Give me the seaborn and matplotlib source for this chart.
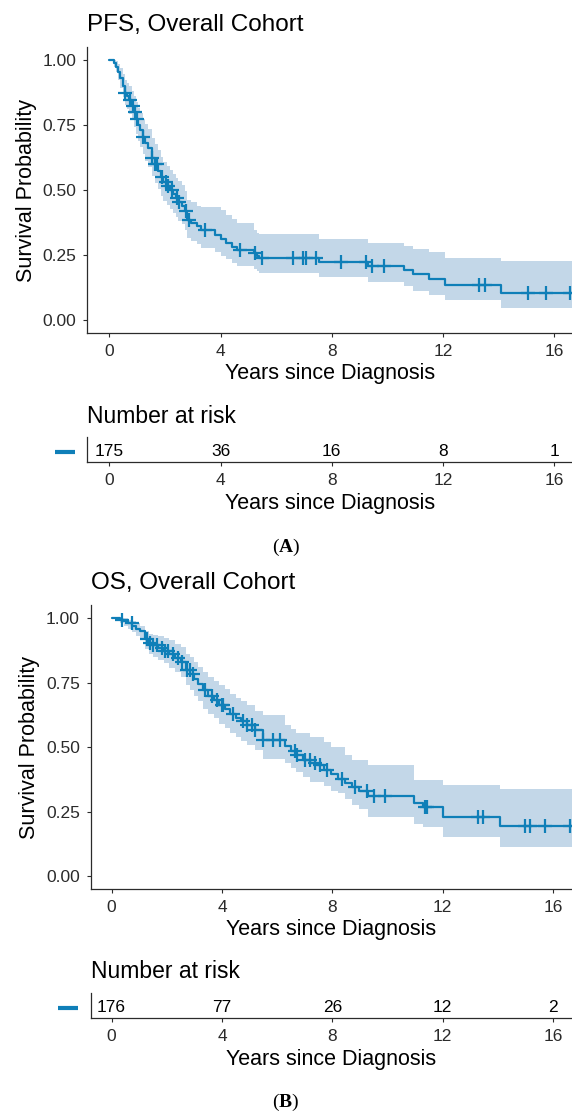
import numpy as np
import pandas as pd
import matplotlib
matplotlib.use('Agg')
import matplotlib.pyplot as plt
import seaborn as sns
from matplotlib.lines import Line2D

# ---- PFS, Overall Cohort ----
pfs_time = [0.00, 0.18, 0.25, 0.32, 0.40, 0.48, 0.56, 0.64, 0.72, 0.80, 0.88, 0.96,
            1.04, 1.12, 1.20, 1.30, 1.40, 1.52, 1.64, 1.76, 1.86, 1.94, 2.06, 2.18,
            2.30, 2.40, 2.48, 2.60, 2.72, 2.81, 2.95, 3.14, 3.30, 3.82, 4.00, 4.20,
            4.40, 4.58, 5.22, 5.32, 5.40, 7.55, 9.32, 10.60, 10.91, 11.48, 12.08, 14.09]
pfs_surv = [1.000, 0.990, 0.975, 0.955, 0.930, 0.900, 0.875, 0.860, 0.845, 0.825, 0.800, 0.775,
            0.750, 0.730, 0.705, 0.680, 0.660, 0.625, 0.600, 0.575, 0.550, 0.530, 0.515, 0.500,
            0.485, 0.470, 0.455, 0.440, 0.420, 0.385, 0.375, 0.362, 0.345, 0.328, 0.312, 0.296,
            0.282, 0.268, 0.256, 0.247, 0.240, 0.224, 0.207, 0.192, 0.176, 0.157, 0.134, 0.102]
pfs_lower = [1.000, 0.975, 0.953, 0.925, 0.893, 0.858, 0.828, 0.810, 0.793, 0.770, 0.742, 0.715,
             0.688, 0.665, 0.638, 0.612, 0.590, 0.555, 0.528, 0.502, 0.477, 0.457, 0.442, 0.427,
             0.412, 0.397, 0.382, 0.368, 0.348, 0.315, 0.305, 0.293, 0.278, 0.262, 0.248, 0.234,
             0.221, 0.207, 0.195, 0.187, 0.181, 0.166, 0.147, 0.130, 0.112, 0.096, 0.077, 0.045]
pfs_upper = [1.000, 1.000, 0.995, 0.985, 0.968, 0.945, 0.925, 0.912, 0.900, 0.882, 0.860, 0.838,
             0.815, 0.797, 0.775, 0.752, 0.733, 0.700, 0.676, 0.652, 0.628, 0.608, 0.593, 0.578,
             0.563, 0.548, 0.533, 0.518, 0.498, 0.462, 0.452, 0.440, 0.435, 0.435, 0.425, 0.405,
             0.390, 0.375, 0.345, 0.335, 0.329, 0.313, 0.295, 0.285, 0.272, 0.260, 0.240, 0.226]
pfs_censor = [0.56, 0.74, 0.84, 0.92, 1.01, 1.22, 1.52, 1.64, 1.72, 1.88, 2.04, 2.12, 2.24,
              2.42, 2.52, 2.76, 2.85, 3.44, 4.70, 5.24, 5.48, 6.62, 6.98, 7.07, 7.43, 8.33,
              9.23, 9.44, 9.88, 13.31, 13.51, 15.04, 15.71, 16.57]
pfs_end = 16.75
pfs_risk = [175, 36, 16, 8, 1]

# ---- OS, Overall Cohort ----
os_time = [0.00, 0.30, 0.45, 0.60, 0.75, 0.90, 1.05, 1.20, 1.35, 1.50, 1.70, 1.90, 2.10,
           2.30, 2.50, 2.70, 2.85, 3.00, 3.15, 3.30, 3.50, 3.70, 3.90, 4.10, 4.30, 4.50,
           4.70, 4.90, 5.20, 5.47, 6.30, 6.50, 6.70, 6.95, 7.20, 7.45, 7.70, 7.95, 8.20,
           8.45, 8.70, 8.95, 9.30, 10.95, 11.30, 12.02, 14.08]
os_surv = [1.000, 0.994, 0.988, 0.980, 0.970, 0.960, 0.950, 0.920, 0.905, 0.895, 0.885, 0.875, 0.860,
           0.845, 0.830, 0.800, 0.785, 0.765, 0.745, 0.720, 0.700, 0.685, 0.665, 0.650, 0.630, 0.615,
           0.600, 0.585, 0.566, 0.528, 0.505, 0.485, 0.470, 0.450, 0.440, 0.430, 0.410, 0.395, 0.375,
           0.360, 0.345, 0.330, 0.310, 0.285, 0.269, 0.230, 0.195]
os_lower = [1.000, 0.982, 0.972, 0.960, 0.945, 0.932, 0.918, 0.880, 0.862, 0.850, 0.838, 0.825, 0.808,
            0.790, 0.772, 0.740, 0.722, 0.700, 0.678, 0.650, 0.628, 0.612, 0.590, 0.575, 0.555, 0.540,
            0.525, 0.510, 0.490, 0.456, 0.437, 0.420, 0.402, 0.384, 0.366, 0.366, 0.350, 0.330, 0.321,
            0.300, 0.275, 0.260, 0.230, 0.204, 0.191, 0.152, 0.114]
os_upper = [1.000, 1.000, 1.000, 0.995, 0.988, 0.980, 0.972, 0.950, 0.940, 0.935, 0.930, 0.925, 0.915,
            0.902, 0.890, 0.862, 0.848, 0.830, 0.812, 0.790, 0.772, 0.758, 0.740, 0.725, 0.706, 0.692,
            0.678, 0.662, 0.642, 0.625, 0.586, 0.570, 0.554, 0.554, 0.541, 0.541, 0.520, 0.502, 0.500,
            0.470, 0.450, 0.450, 0.431, 0.373, 0.373, 0.353, 0.336]
os_censor = [0.37, 0.73, 1.27, 1.39, 1.51, 1.64, 1.82, 1.94, 2.06, 2.24, 2.42, 2.54, 2.72, 2.84,
             2.96, 3.39, 3.63, 3.81, 3.99, 4.05, 4.41, 4.78, 4.90, 5.08, 5.20, 5.50, 5.86, 6.10,
             6.65, 6.71, 7.01, 7.19, 7.37, 7.55, 7.80, 8.34, 8.83, 9.25, 9.49, 9.91, 11.36, 11.42,
             13.29, 13.47, 14.98, 15.16, 15.70, 16.60]
os_end = 16.75
os_risk = [176, 77, 26, 12, 2]

risk_times = [0, 4, 8, 12, 16]
y_ticks = [0.00, 0.25, 0.50, 0.75, 1.00]

LINE = '#0f7fb8'
BAND = '#c3d7e8'
AXC = '#2b2b2b'

sns.set_theme(style='ticks')
plt.rcParams['font.family'] = ['Liberation Sans', 'DejaVu Sans']
plt.rcParams['text.color'] = 'black'
plt.rcParams['mathtext.fontset'] = 'custom'
plt.rcParams['mathtext.rm'] = 'Liberation Serif'
plt.rcParams['mathtext.bf'] = 'Liberation Serif:bold'

W, H = 572, 1113
fig = plt.figure(figsize=(W / 100, H / 100), dpi=100)


def box(l, t, r, b):
    return fig.add_axes([l / W, 1 - b / H, (r - l) / W, (b - t) / H])


def style_axis(ax, xlim):
    for side in ['top', 'right']:
        ax.spines[side].set_visible(False)
    for side in ['left', 'bottom']:
        ax.spines[side].set_color(AXC)
        ax.spines[side].set_linewidth(0.9)
    ax.set_xlim(*xlim)
    ax.set_xticks(risk_times)
    ax.tick_params(axis='both', length=3, width=0.8, color=AXC, labelcolor='#2a2a2a',
                   labelsize=12.5, pad=5)
    ax.set_facecolor('white')


def draw_km(ax, times, surv, lower, upper, censor, end, title, xlim):
    t = list(times) + [end]
    df = pd.DataFrame({'t': t,
                       's': list(surv) + [surv[-1]],
                       'lo': list(lower) + [lower[-1]],
                       'up': list(upper) + [upper[-1]]})
    ax.fill_between(df['t'], df['lo'], df['up'], step='post', color=BAND, lw=0, zorder=1)
    sns.lineplot(data=df, x='t', y='s', ax=ax, drawstyle='steps-post', color=LINE,
                 lw=1.6, estimator=None, sort=False, zorder=3)
    idx = np.searchsorted(times, censor, side='right') - 1
    cen = pd.DataFrame({'t': censor, 's': np.asarray(surv)[idx]})
    sns.scatterplot(data=cen, x='t', y='s', ax=ax, marker='+', s=95, color=LINE,
                    linewidth=1.6, zorder=4, legend=False)
    style_axis(ax, xlim)
    ax.set_ylim(-0.05, 1.05)
    ax.set_yticks(y_ticks)
    ax.set_yticklabels([f'{v:.2f}' for v in y_ticks])
    ax.set_xlabel('Years since Diagnosis', fontsize=15.5, color='black')
    ax.set_ylabel('Survival Probability', fontsize=15.5, color='black')
    ax.text(0, 1.078, title, transform=ax.transAxes, fontsize=17.5, ha='left',
            va='center', color='black')


def draw_risk(ax, counts, xlim):
    style_axis(ax, xlim)
    ax.set_ylim(0, 1)
    ax.set_yticks([])
    for x, n in zip(risk_times, counts):
        ax.text(x, 0.4, str(n), ha='center', va='center', fontsize=12.5, color='black')
    ax.text(0, 1.84, 'Number at risk', transform=ax.transAxes, fontsize=16.5,
            ha='left', va='center', color='black')
    ax.set_xlabel('Years since Diagnosis', fontsize=15.5, color='black')


def place_labels(ax, top, bottom, ylab_x, l, r, xlab_y):
    h = bottom - top
    w = r - l
    ax.xaxis.label.set_va('center')
    ax.xaxis.set_label_coords(0.5, (bottom - xlab_y) / h)
    if ylab_x is not None:
        ax.yaxis.label.set_va('center')
        ax.yaxis.set_label_coords((ylab_x - l) / w, 0.5)


# panel A
xlim_a = (-0.79, 16.64)
ax1 = box(87.3, 47, 572, 333)
draw_km(ax1, pfs_time, pfs_surv, pfs_lower, pfs_upper, pfs_censor, pfs_end,
        'PFS, Overall Cohort', xlim_a)
place_labels(ax1, 47, 333, 27, 87.3, 572, 374)

ax2 = box(87.3, 437, 572, 462)
draw_risk(ax2, pfs_risk, xlim_a)
place_labels(ax2, 437, 462, None, 87.3, 572, 504)

# panel B
xlim_b = (-0.743, 16.68)
ax3 = box(91, 605.4, 572, 889)
draw_km(ax3, os_time, os_surv, os_lower, os_upper, os_censor, os_end,
        'OS, Overall Cohort', xlim_b)
place_labels(ax3, 605.4, 889, 30, 91, 572, 930)

ax4 = box(91, 993, 572, 1018)
draw_risk(ax4, os_risk, xlim_b)
place_labels(ax4, 993, 1018, None, 91, 572, 1060)

# strata dash in front of the risk tables
for x0, x1, yc in [(55, 75, 452.5), (58, 78, 1007.5)]:
    fig.add_artist(Line2D([x0 / W, x1 / W], [1 - yc / H, 1 - yc / H], lw=3,
                          color=LINE, solid_capstyle='butt'))

fig.text(286 / W, 1 - 547 / H, r'($\mathbf{A}$)', ha='center', va='center',
         fontsize=14, family='Liberation Serif')
fig.text(286 / W, 1 - 1102 / H, r'($\mathbf{B}$)', ha='center', va='center',
         fontsize=14, family='Liberation Serif')

fig.savefig('out.png', dpi=100, facecolor='white')
